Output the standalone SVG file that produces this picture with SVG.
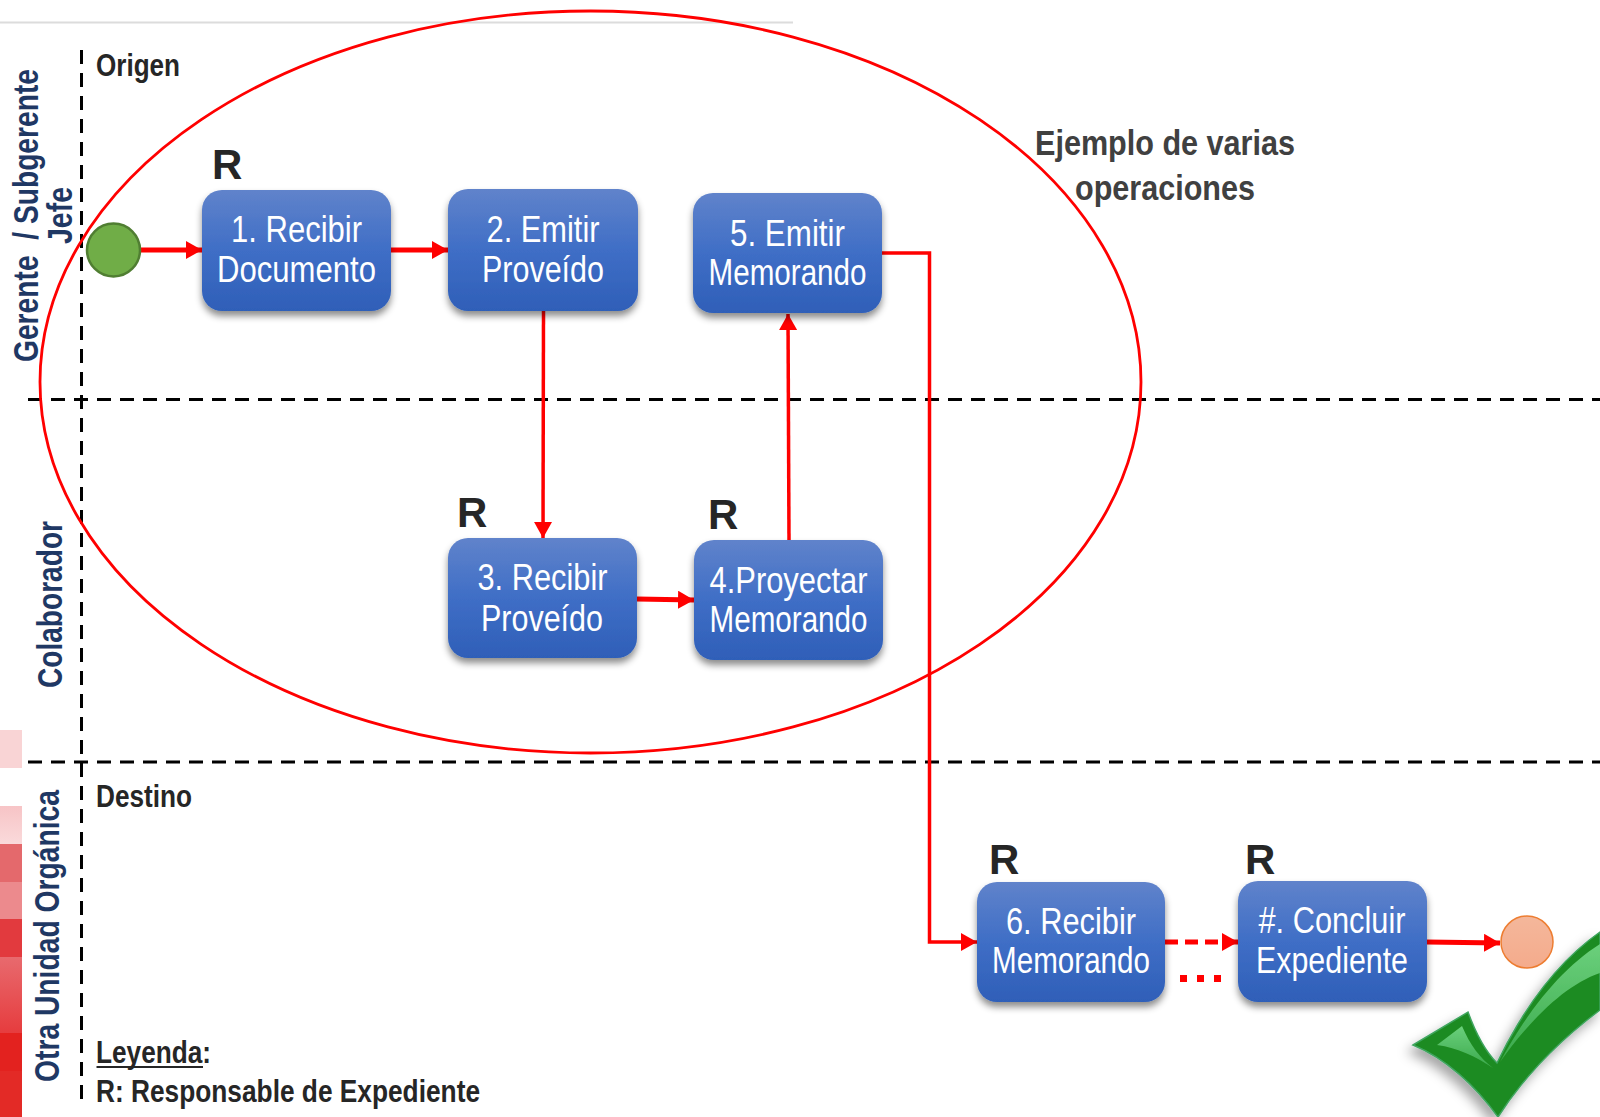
<svg xmlns="http://www.w3.org/2000/svg" width="1600" height="1117" viewBox="0 0 1600 1117">
<style>
text{font-family:"Liberation Sans",Arial,sans-serif}
.box{fill:url(#bg);filter:url(#sh)}
.bt{fill:#fff;font-size:36px;text-anchor:middle}
.r{fill:#262626;font-size:42px;font-weight:bold}
.lane{fill:#1f3864;font-size:35px;font-weight:bold;white-space:pre}
.lbl{fill:#262626;font-size:31px;font-weight:bold}
.dash{stroke:#000;stroke-width:3;stroke-dasharray:14 9;fill:none}
.c{stroke:#f00;stroke-width:5;fill:none;marker-end:url(#a)}
.thin{stroke-width:3.5}
</style>
<defs>
<linearGradient id="bg" x1="0" y1="0" x2="0" y2="1"><stop offset="0" stop-color="#6083cb"/><stop offset=".5" stop-color="#3f6ec6"/><stop offset="1" stop-color="#2f5fb8"/></linearGradient>
<linearGradient id="og" x1="0" y1="0" x2="0" y2="1"><stop offset="0" stop-color="#f4b79b"/><stop offset="1" stop-color="#f4ab8c"/></linearGradient>
<linearGradient id="p1" x1="0" y1="0" x2="0" y2="1"><stop offset="0" stop-color="#f7c4c6"/><stop offset="1" stop-color="#fadadb"/></linearGradient>
<linearGradient id="p2" x1="0" y1="0" x2="0" y2="1"><stop offset="0" stop-color="#e86a6e"/><stop offset="1" stop-color="#e63c3e"/></linearGradient>
<linearGradient id="gk" x1="0" y1="0" x2="0" y2="1"><stop offset="0" stop-color="#6bd07c"/><stop offset="1" stop-color="#3aa94c"/></linearGradient>
<filter id="sh" x="-10%" y="-10%" width="120%" height="125%"><feDropShadow dx="0" dy="5" stdDeviation="3.5" flood-color="#000" flood-opacity=".45"/></filter>
<filter id="sk" x="-20%" y="-20%" width="140%" height="140%"><feDropShadow dx="-5" dy="7" stdDeviation="6" flood-color="#000" flood-opacity=".35"/></filter>
<marker id="a" markerUnits="userSpaceOnUse" markerWidth="17" markerHeight="18" refX="16" refY="9" orient="auto"><path d="M0 0L16 9L0 18Z" fill="#f00"/></marker>
</defs>

<g id="background">
<line x1="0" y1="22.500" x2="793" y2="22.500" stroke="#dcdcdc" stroke-width="2"/>
<rect x="0" y="730" width="22" height="38" fill="#f9d4d5"/>
<rect x="0" y="806" width="22" height="38" fill="url(#p1)"/>
<rect x="0" y="844" width="22" height="38" fill="#e4696c"/>
<rect x="0" y="882" width="22" height="37" fill="#ec8a8d"/>
<rect x="0" y="919" width="22" height="38" fill="#e23a3e"/>
<rect x="0" y="957" width="22" height="76" fill="url(#p2)"/>
<rect x="0" y="1033" width="22" height="38" fill="#e3221f"/>
<rect x="0" y="1071" width="22" height="46" fill="#e32a26"/>
<line class="dash" x1="28" y1="399.500" x2="1600" y2="399.500"/>
<line class="dash" x1="28" y1="762" x2="1600" y2="762"/>
<line class="dash" x1="81.500" y1="50" x2="81.500" y2="1102"/>
</g>

<g id="check" filter="url(#sk)">
<path d="M1413 1045L1468 1012C1476 1034 1486 1052 1497 1063C1525 1005 1560 960 1600 932L1600 1010C1560 1040 1525 1075 1498 1117C1475 1085 1445 1058 1413 1045Z" fill="#1e8b20" stroke="#3fa560" stroke-width="1.500"/>
<path d="M1437 1045L1462 1026C1470 1045 1480 1058 1493 1068C1475 1056 1458 1048 1437 1045Z" fill="url(#gk)"/>
<path d="M1500 1062C1528 1010 1562 968 1600 944L1600 973C1565 985 1530 1020 1500 1062Z" fill="url(#gk)"/>
</g>

<g id="connectors">
<ellipse cx="590.500" cy="382" rx="550.500" ry="371" fill="none" stroke="#f00" stroke-width="2.800"/>
<path class="c" d="M141 250H202"/>
<path class="c" d="M391 250H448"/>
<path class="c thin" d="M543.500 311L543 538"/>
<path class="c" d="M637 599L694 600"/>
<path class="c thin" d="M789 540L788 314"/>
<path class="c thin" d="M882 253H929.500V942H977"/>
<path class="c" d="M1165 942H1238" stroke-dasharray="13 7"/>
<path class="c" d="M1427 942L1500 943"/>
<path d="M1180 978.500H1224" stroke="#f00" stroke-width="7" stroke-dasharray="7 10" fill="none"/>
</g>

<g id="start"><circle cx="113.500" cy="250" r="26.500" fill="#70ad47" stroke="#507e32" stroke-width="2.500"/></g>
<g id="end"><circle cx="1527" cy="942" r="26" fill="url(#og)" stroke="#ed7d31" stroke-width="1.500"/></g>

<g id="n1"><rect class="box" x="202" y="190" width="189" height="121" rx="20"/>
<text class="bt" x="296.500" y="242" textLength="131" lengthAdjust="spacingAndGlyphs">1. Recibir</text>
<text class="bt" x="296.500" y="282" textLength="159" lengthAdjust="spacingAndGlyphs">Documento</text></g>
<g id="n2"><rect class="box" x="448" y="189" width="190" height="122" rx="20"/>
<text class="bt" x="543" y="242" textLength="113" lengthAdjust="spacingAndGlyphs">2. Emitir</text>
<text class="bt" x="543" y="282" textLength="122" lengthAdjust="spacingAndGlyphs">Proveído</text></g>
<g id="n5"><rect class="box" x="693" y="193" width="189" height="120" rx="20"/>
<text class="bt" x="787.500" y="246" textLength="115" lengthAdjust="spacingAndGlyphs">5. Emitir</text>
<text class="bt" x="787.500" y="285" textLength="158" lengthAdjust="spacingAndGlyphs">Memorando</text></g>
<g id="n3"><rect class="box" x="448" y="538" width="189" height="120" rx="20"/>
<text class="bt" x="542.500" y="590" textLength="130" lengthAdjust="spacingAndGlyphs">3. Recibir</text>
<text class="bt" x="542" y="631" textLength="122" lengthAdjust="spacingAndGlyphs">Proveído</text></g>
<g id="n4"><rect class="box" x="694" y="540" width="189" height="120" rx="20"/>
<text class="bt" x="788.500" y="593" textLength="158" lengthAdjust="spacingAndGlyphs">4.Proyectar</text>
<text class="bt" x="788.500" y="632" textLength="158" lengthAdjust="spacingAndGlyphs">Memorando</text></g>
<g id="n6"><rect class="box" x="977" y="882" width="188" height="120" rx="20"/>
<text class="bt" x="1071" y="934" textLength="130" lengthAdjust="spacingAndGlyphs">6. Recibir</text>
<text class="bt" x="1071" y="973" textLength="158" lengthAdjust="spacingAndGlyphs">Memorando</text></g>
<g id="n7"><rect class="box" x="1238" y="881" width="189" height="121" rx="20"/>
<text class="bt" x="1332" y="933" textLength="147" lengthAdjust="spacingAndGlyphs">#. Concluir</text>
<text class="bt" x="1332" y="973" textLength="152" lengthAdjust="spacingAndGlyphs">Expediente</text></g>

<g id="labels">
<text class="r" x="212" y="179">R</text>
<text class="r" x="457" y="527">R</text>
<text class="r" x="708" y="529">R</text>
<text class="r" x="989" y="874">R</text>
<text class="r" x="1245" y="874">R</text>
<text class="lbl" x="96" y="76" textLength="84" lengthAdjust="spacingAndGlyphs">Origen</text>
<text class="lbl" x="96" y="807" textLength="96" lengthAdjust="spacingAndGlyphs">Destino</text>
<text class="lbl" x="96" y="1063" textLength="115" lengthAdjust="spacingAndGlyphs">Leyenda:</text>
<line x1="96.500" y1="1067" x2="203" y2="1067" stroke="#262626" stroke-width="2"/>
<text class="lbl" x="96" y="1102" textLength="384" lengthAdjust="spacingAndGlyphs">R: Responsable de Expediente</text>
<text fill="#404040" font-size="35" font-weight="bold" text-anchor="middle" x="1165" y="155" textLength="260" lengthAdjust="spacingAndGlyphs">Ejemplo de varias</text>
<text fill="#404040" font-size="35" font-weight="bold" text-anchor="middle" x="1165" y="200" textLength="180" lengthAdjust="spacingAndGlyphs">operaciones</text>
<text class="lane" transform="translate(38 362) rotate(-90)" textLength="293" lengthAdjust="spacingAndGlyphs" xml:space="preserve">Gerente  / Subgerente</text>
<text class="lane" transform="translate(72 244) rotate(-90)" textLength="57" lengthAdjust="spacingAndGlyphs">Jefe</text>
<text class="lane" transform="translate(62 688) rotate(-90)" textLength="167" lengthAdjust="spacingAndGlyphs">Colaborador</text>
<text class="lane" transform="translate(59 1082) rotate(-90)" textLength="292" lengthAdjust="spacingAndGlyphs">Otra Unidad Orgánica</text>
</g>
</svg>
